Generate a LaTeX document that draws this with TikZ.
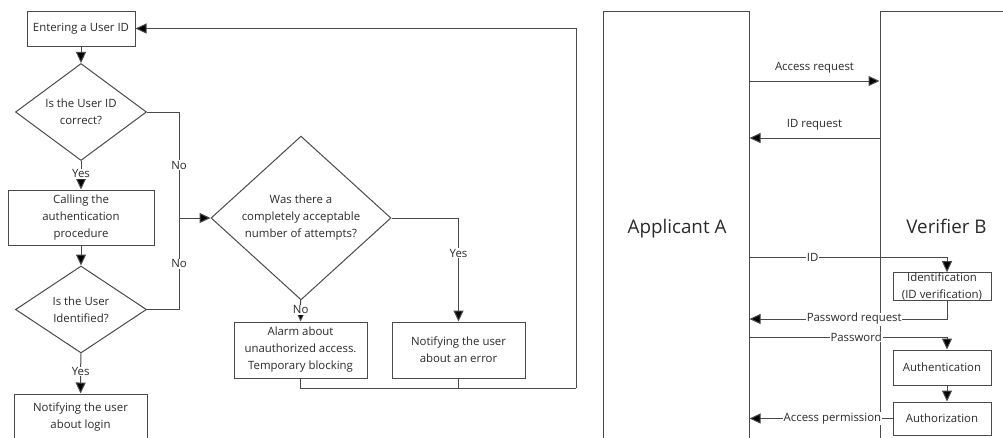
\documentclass[tikz,border=0pt]{standalone}
\usepackage{fontspec}
\setmainfont{Open Sans}
\usetikzlibrary{arrows.meta,shapes.geometric,calc}

\definecolor{linecol}{HTML}{4A4A4A}
\definecolor{txtcol}{HTML}{2A2A2A}

\tikzset{
  base/.style={font=\fontsize{11.4}{17}\selectfont, text=txtcol, align=center},
  stepbox/.style={base, draw=linecol, line width=1pt, rectangle, inner sep=0pt},
  decision/.style={base, draw=linecol, line width=1pt, diamond, inner sep=0pt, aspect=1},
  party/.style={draw=linecol, line width=1pt, rectangle, inner sep=0pt},
  partyname/.style={font=\fontsize{18.8}{22}\selectfont, text=txtcol, anchor=base, inner sep=0pt},
  conn/.style={draw=linecol, line width=1pt},
  arr/.style={conn, -{Triangle[length=11pt,width=10pt,fill=black]}},
  lbl/.style={base, fill=white, inner sep=0.8pt},
}

\begin{document}
\begin{tikzpicture}[x=1pt,y=-1pt]
\useasboundingbox (0,0) rectangle (1003,437);
\clip (0,0) rectangle (1003,437);

% ---------- flowchart of the login procedure ----------
\node[stepbox, minimum width=108pt, minimum height=35pt] (enter) at (81,28.5) {Entering a User ID};
\node[decision, minimum width=131pt, minimum height=88pt] (idok) at (81,112) {Is the User ID\\correct?};
\node[stepbox, minimum width=146pt, minimum height=55pt] (call) at (81,217.5) {Calling the\\authentication\\procedure};
\node[decision, minimum width=131pt, minimum height=87pt] (ident) at (81,309.5) {Is the User\\Identified?};
\node[stepbox, minimum width=133pt, minimum height=46pt] (login) at (80.5,417) {Notifying the user\\about login};
\node[decision, minimum width=180pt, minimum height=138pt] (tries) at (301,218) {Was there a\\completely acceptable\\number of attempts?};
\node[stepbox, minimum width=133pt, minimum height=56pt] (alarm) at (300.5,350) {Alarm about\\unauthorized access.\\Temporary blocking};
\node[stepbox, minimum width=133pt, minimum height=56pt] (error) at (458.5,350) {Notifying the user\\about an error};

\coordinate (join) at (179,218);
\coordinate (ret) at (576,388);

\draw[arr] (enter) -- (idok);
\draw[arr] (idok) -- node[lbl, pos=0.45] {Yes} (call);
\draw[arr] (call) -- (ident);
\draw[arr] (ident) -- node[lbl, pos=0.45] {Yes} (login);
\draw[conn] (idok.east) -| node[lbl, pos=0.75] {No} (join);
\draw[conn] (ident.east) -| node[lbl, pos=0.75] {No} (join);
\draw[arr] (join) -- (tries.west);
\draw[arr] (tries) -- node[lbl, pos=0.45] {No} (alarm);
\draw[arr] (tries.east) -| node[lbl, pos=0.67] {Yes} (error);
\draw[conn] (alarm.south) |- (ret);
\draw[conn] (error.south) -- (error.south |- ret);
\draw[arr] (ret) |- (enter.east);

% ---------- exchange between applicant and verifier ----------
\node[party, minimum width=146pt, minimum height=486pt] (appl) at (676,254) {};
\node[party, minimum width=136pt, minimum height=486pt] (verif) at (948,254) {};
\node[partyname] (applname) at (677,233) {Applicant A};
\node[partyname] (verifname) at (946.5,233) {Verifier B};

\node[stepbox, minimum width=98pt, minimum height=27pt] (idcheck) at (942,286.5) {Identification\\(ID verification)};
\node[stepbox, minimum width=98pt, minimum height=35pt] (authn) at (942,367.5) {Authentication};
\node[stepbox, minimum width=98pt, minimum height=33pt] (authz) at (942,418.5) {Authorization};

\coordinate (col) at (947,0);

\draw[arr] (appl.east |- 0,81) -- node[base, above=4pt] {Access request} (verif.west |- 0,81);
\draw[arr] (verif.west |- 0,138) -- node[base, above=4pt] {ID request} (appl.east |- 0,138);

\draw[arr] (appl.east |- 0,257) -- node[lbl, pos=0.32] {ID} (col |- 0,257) -- (col |- idcheck.north);
\draw[arr] (col |- idcheck.south) -- (col |- 0,319) -- node[lbl, pos=0.47] {Password request} (appl.east |- 0,319);
\draw[arr] (appl.east |- 0,337) -- node[lbl, pos=0.54] {Password} (col |- 0,337) -- (col |- authn.north);
\draw[arr] (col |- authn.south) -- (col |- authz.north);
\draw[arr] (authz.west) -- node[lbl, pos=0.42] {Access permission} (appl.east |- authz.west);

\end{tikzpicture}
\end{document}
